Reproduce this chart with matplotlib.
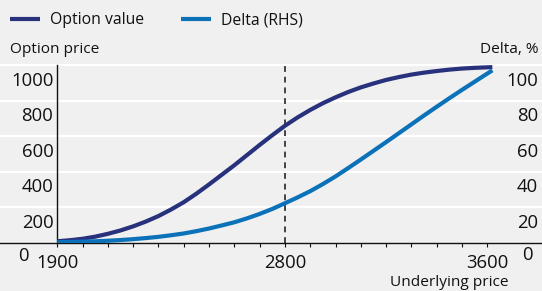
import matplotlib.pyplot as plt
import matplotlib.transforms as mtransforms
from matplotlib.lines import Line2D

# values
underlying = [1900, 1950, 2000, 2050, 2100, 2150, 2200, 2250, 2300, 2350,
              2400, 2450, 2500, 2550, 2600, 2650, 2700, 2750, 2800, 2850,
              2900, 2950, 3000, 3050, 3100, 3150, 3200, 3250, 3300, 3350,
              3400, 3450, 3500, 3550, 3620]
option_value = [8, 14, 22, 34, 50, 69, 92, 119, 150, 187,
                228, 276, 328, 382, 436, 493, 550, 605, 658, 705,
                747, 785, 818, 848, 874, 896, 916, 932, 946, 957,
                966, 974, 980, 984, 988]
delta_pct = [0.3, 0.4, 0.6, 0.8, 1.1, 1.5, 2.0, 2.6, 3.3, 4.2,
             5.2, 6.5, 8.0, 9.7, 11.5, 13.7, 16.2, 19.0, 22.2, 25.5,
             29.0, 33.0, 37.3, 42.0, 46.8, 51.7, 56.6, 61.6, 66.6, 71.6,
             76.5, 81.3, 86.0, 90.6, 97.0]

left_ticks = [200, 400, 600, 800, 1000]
right_ticks = [20, 40, 60, 80, 100]
x_labels = [1900, 2800, 3600]
strike = 2800

DARK = '#27317c'
LIGHT = '#0b72b9'
BG = '#f0f0f0'
INK = '#111111'

W, H = 542, 291
plt.rcParams['font.family'] = ['Open Sans', 'DejaVu Sans']

fig = plt.figure(figsize=(W / 100, H / 100), dpi=100, facecolor=BG)
# plot area: y 65..242.7 px, full width
ax = fig.add_axes([0, (H - 242.7) / H, 1, (242.7 - 65) / H])
ax.set_facecolor(BG)
ax.set_xlim(1673.5, 3816.3)
ax.set_ylim(0, 1000)

for v in left_ticks:
    ax.axhline(v, color='white', lw=1.6, clip_on=False, zorder=0)

ax.axvline(strike, color='#444444', lw=1.4, linestyle=(0, (3, 2.5)), zorder=1)

ax.plot(underlying, option_value, color=DARK, lw=3, solid_capstyle='butt', zorder=3)
ax2 = ax.twinx()
ax2.set_ylim(0, 100)
ax2.plot(underlying, delta_pct, color=LIGHT, lw=3, solid_capstyle='butt', zorder=3)

for a in (ax, ax2):
    for s in ('top', 'right', 'left'):
        a.spines[s].set_visible(False)
    a.set_yticks([])
ax2.spines['bottom'].set_visible(False)
ax2.set_xticks([])

ax.spines['bottom'].set_color(INK)
ax.spines['bottom'].set_linewidth(1)
ax.spines['left'].set_visible(True)
ax.spines['left'].set_position(('data', 1900))
ax.spines['left'].set_color(INK)
ax.spines['left'].set_linewidth(1)

ax.set_xticks(range(1900, 3601, 100))
ax.set_xticklabels([])
ax.tick_params(axis='x', direction='out', length=3.2, width=0.8, color=INK)

def px_to_pt(p):
    return p * 0.72

# left labels (below their grid lines)
tr_left = mtransforms.blended_transform_factory(fig.transFigure, ax.transData)
tr_left = tr_left + mtransforms.ScaledTranslation(0, -px_to_pt(20.5) / 72, fig.dpi_scale_trans)
for v in left_ticks:
    ax.text(53.5 / W, v, str(v), transform=tr_left, ha='right', va='baseline',
            fontsize=13.3, color=INK)
tr_zero = mtransforms.blended_transform_factory(fig.transFigure, ax.transData) + \
    mtransforms.ScaledTranslation(0, -px_to_pt(18) / 72, fig.dpi_scale_trans)
ax.text(23 / W, 0, '0', transform=tr_zero, ha='center', va='baseline', fontsize=13.3, color=INK)

tr_right = mtransforms.blended_transform_factory(fig.transFigure, ax2.transData) + \
    mtransforms.ScaledTranslation(0, -px_to_pt(20.5) / 72, fig.dpi_scale_trans)
for v in right_ticks:
    ax2.text(538 / W, v, str(v), transform=tr_right, ha='right', va='baseline',
             fontsize=13.3, color=INK)
tr_rzero = mtransforms.blended_transform_factory(fig.transFigure, ax2.transData) + \
    mtransforms.ScaledTranslation(0, -px_to_pt(17.5) / 72, fig.dpi_scale_trans)
ax2.text(527.5 / W, 0, '0', transform=tr_rzero, ha='center', va='baseline', fontsize=13.3, color=INK)

# x labels
tr_x = mtransforms.blended_transform_factory(ax.transData, ax.transData) + \
    mtransforms.ScaledTranslation(0, -px_to_pt(25.6) / 72, fig.dpi_scale_trans)
for v in x_labels:
    ax.text(v, 0, str(v), transform=tr_x, ha='center', va='baseline', fontsize=13.3, color=INK)

fig.text(508 / W, 1 - 286.5 / H, 'Underlying price', ha='right', va='baseline',
         fontsize=11.1, color=INK)
fig.text(10 / W, 1 - 53 / H, 'Option price', ha='left', va='baseline', fontsize=11.1, color=INK)
fig.text(538 / W, 1 - 53 / H, 'Delta, %', ha='right', va='baseline', fontsize=11.1, color=INK)

handles = [Line2D([], [], color=DARK, lw=3, solid_capstyle='butt'),
           Line2D([], [], color=LIGHT, lw=3, solid_capstyle='butt')]
fig.legend(handles, ['Option value', 'Delta (RHS)'], loc='center left',
           bbox_to_anchor=(10 / W, 1 - 20.5 / H), ncol=2, frameon=False,
           fontsize=11.3, handlelength=1.9, handletextpad=0.64, columnspacing=2.35,
           borderpad=0, borderaxespad=0, labelcolor=INK)

fig.savefig('out.png', dpi=100, facecolor=BG)
